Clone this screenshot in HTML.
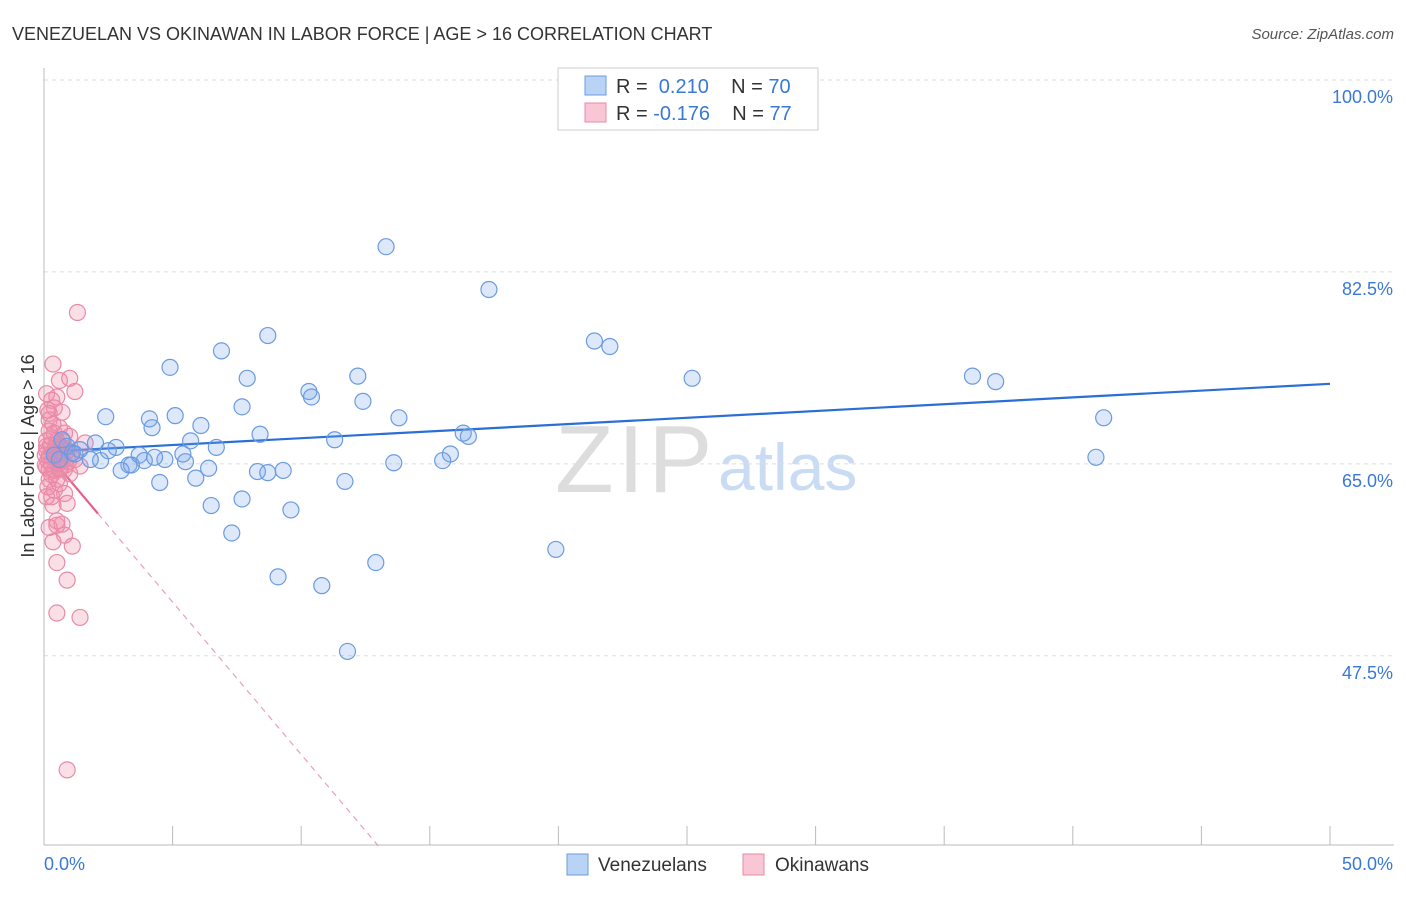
<!DOCTYPE html>
<html><head><meta charset="utf-8"><style>
body{margin:0;background:#fff;width:1406px;height:892px;overflow:hidden;font-family:"Liberation Sans",sans-serif}
svg text{font-family:"Liberation Sans",sans-serif}
</style></head><body>
<svg id="chart" width="1406" height="892" xmlns="http://www.w3.org/2000/svg">
<text x="12" y="40" font-size="18" fill="#333">VENEZUELAN VS OKINAWAN IN LABOR FORCE | AGE &gt; 16 CORRELATION CHART</text>
<text x="1394" y="39" font-size="15" fill="#555" font-style="italic" text-anchor="end">Source: ZipAtlas.com</text>
<g>
<text x="555" y="492" font-size="96" font-family="Liberation Serif" fill="#ddd" letter-spacing="4">ZIP</text>
<text x="718" y="490" font-size="66" fill="#c9dcf3">atlas</text>
</g>
<g id="grid"></g>
<g id="axes"></g>
<g id="trend"></g>
<g id="pts"></g>
<g>
<rect x="558" y="68" width="260" height="62" fill="#fff" stroke="#ccc"/>
<rect x="585" y="76" width="21" height="19" fill="#b9d3f5" stroke="#6a9be0"/>
<rect x="585" y="103" width="21" height="19" fill="#f9c6d6" stroke="#e88aa8"/>
<text x="616" y="93" font-size="20" fill="#333">R = <tspan fill="#3a78d6">&#160;0.210</tspan>&#160;&#160;&#160;&#160;N = <tspan fill="#3a78d6">70</tspan></text>
<text x="616" y="120" font-size="20" fill="#333">R = <tspan fill="#3a78d6">-0.176</tspan>&#160;&#160;&#160;&#160;N = <tspan fill="#3a78d6">77</tspan></text>
</g>
<g>
<rect x="567" y="854" width="21" height="21" fill="#b9d3f5" stroke="#6a9be0"/>
<text x="598" y="871" font-size="19" fill="#333">Venezuelans</text>
<rect x="743" y="854" width="21" height="21" fill="#f9c6d6" stroke="#e88aa8"/>
<text x="775" y="871" font-size="19" fill="#333">Okinawans</text>
</g>
<text transform="translate(34,456) rotate(-90)" font-size="18" fill="#333" text-anchor="middle">In Labor Force | Age &gt; 16</text>
</svg>
<script>
const yTicks=[100,82.5,65,47.5];
const yTickLabels=["100.0%","82.5%","65.0%","47.5%"];
const xTickValues=[0,5,10,15,20,25,30,35,40,45,50];
const xEndLabels=["0.0%","50.0%"];
const blueX=[13.3,17.3,8.7,21.4,22.0,6.9,4.9,7.9,12.2,25.2,36.1,37.0,10.3,10.4,12.4,7.7,2.4,4.1,5.1,13.8,41.2,4.2,6.1,8.4,16.3,16.5,11.3,2.0,5.7,2.8,1.4,6.7,3.7,4.7,5.4,2.2,3.9,5.5,15.8,13.6,15.5,40.9,3.3,3.4,3.0,6.4,8.3,8.7,9.3,5.9,11.7,4.5,7.7,6.5,9.6,7.3,19.9,12.9,9.1,10.8,11.8,0.9,0.4,0.7,1.1,2.5,1.8,0.6,4.3,1.2];
const blueY=[84.8,80.9,76.7,76.2,75.7,75.3,73.8,72.8,73.0,72.8,73.0,72.5,71.6,71.1,70.7,70.2,69.3,69.1,69.4,69.2,69.2,68.3,68.5,67.7,67.8,67.5,67.2,66.9,67.1,66.5,66.3,66.5,65.8,65.4,65.9,65.3,65.3,65.2,65.9,65.1,65.3,65.6,64.9,64.9,64.4,64.6,64.3,64.2,64.4,63.7,63.4,63.3,61.8,61.2,60.8,58.7,57.2,56.0,54.7,53.9,47.9,66.6,65.8,67.2,66.0,66.2,65.4,65.4,65.6,65.9];
const pinkX=[1.3,0.35,0.6,1.0,1.2,0.5,0.3,0.7,0.15,0.4,0.2,0.6,0.8,1.0,1.6,0.3,0.5,0.1,0.7,0.9,0.4,0.2,1.2,0.5,1.4,0.1,0.8,0.4,1.0,0.2,0.6,0.15,0.8,0.3,0.9,0.5,0.7,0.2,0.8,0.35,1.1,0.5,0.9,0.5,1.4,0.9,0.2,0.1,0.15,0.3,0.5,0.6,0.7,0.4,0.1,0.35,0.5,0.1,0.25,0.4,0.7,0.05,0.2,0.45,0.85,1.05,0.6,0.35,0.1,0.2,0.55,0.75,0.05,0.3,0.65,0.45,0.95];
const pinkY=[78.8,74.1,72.6,72.8,71.6,71.1,70.8,69.7,69.9,70.1,69.0,68.3,67.8,67.5,66.9,67.4,67.1,66.6,66.5,66.2,66.0,65.7,65.4,65.2,64.8,64.7,64.5,64.4,64.1,63.6,63.2,62.9,62.3,62.0,61.4,59.8,59.5,59.2,58.5,57.9,57.5,56.0,54.4,51.4,51.0,37.1,68.0,66.2,65.3,64.0,63.6,66.7,65.3,62.6,62.0,61.2,59.4,67.1,66.7,67.8,65.9,64.9,64.5,65.6,64.9,65.9,64.5,68.6,71.4,69.6,66.3,67.0,65.8,65.0,64.6,66.5,65.2];
const blueTrend=[66.1,72.3];
const pinkTrendStart=66.3, pinkSlope=-2.78, pinkSolidEnd=2.1, pinkDashEnd=13.0;

const L=44,R=1330,T=80,B=845;
const xs=v=>L+(R-L)*v/50;
const ys=v=>T+(100-v)*(B-T)/69.75;
const NS="http://www.w3.org/2000/svg";
function mk(tag,attrs,parent){const e=document.createElementNS(NS,tag);for(const k in attrs)e.setAttribute(k,attrs[k]);parent.appendChild(e);return e;}
const grid=document.getElementById('grid'),axes=document.getElementById('axes'),tr=document.getElementById('trend'),pts=document.getElementById('pts');
yTicks.forEach((v,i)=>{
 const l=mk('line',{x1:L,x2:1394,y1:ys(v),y2:ys(v),stroke:'#ddd','stroke-dasharray':'4,4'},grid);
 
 
 const t=mk('text',{x:1393,y:ys(v)+23,'font-size':18,fill:'#3a78d6','text-anchor':'end'},axes);
 t.textContent=yTickLabels[i];
 
 
});
const ya=mk('line',{x1:L,x2:L,y1:68,y2:B,stroke:'#bbb'},axes);


const xa=mk('line',{x1:L,x2:1394,y1:B,y2:B,stroke:'#bbb'},axes);


xTickValues.forEach(v=>{
 const t=mk('line',{x1:xs(v),x2:xs(v),y1:826,y2:B,stroke:'#bbb'},axes);
 
 
});
[[0,'start'],[50,'end']].forEach((a,i)=>{
 const t=mk('text',{x:i?1393:44,y:870,'font-size':18,fill:'#3a78d6','text-anchor':a[1]},axes);
 t.textContent=xEndLabels[i];
 
 
});
pinkX.forEach((x,i)=>{
 const c=mk('circle',{cx:xs(x),cy:ys(pinkY[i]),r:8,fill:'rgba(242,140,170,0.28)',stroke:'#e88aa8','stroke-width':1.2},pts);
 
 
});
blueX.forEach((x,i)=>{
 const c=mk('circle',{cx:xs(x),cy:ys(blueY[i]),r:8,fill:'rgba(120,165,235,0.25)',stroke:'#6a9be0','stroke-width':1.2},pts);
 
 
});
const bl=mk('line',{x1:xs(0),y1:ys(blueTrend[0]),x2:xs(50),y2:ys(blueTrend[1]),stroke:'#2a6fd6','stroke-width':2.2},tr);


const ps=mk('line',{x1:xs(0),y1:ys(pinkTrendStart),x2:xs(pinkSolidEnd),y2:ys(pinkTrendStart+pinkSlope*pinkSolidEnd),stroke:'#e5608a','stroke-width':2.2},tr);


const pd=mk('line',{x1:xs(pinkSolidEnd),y1:ys(pinkTrendStart+pinkSlope*pinkSolidEnd),x2:xs(pinkDashEnd),y2:ys(pinkTrendStart+pinkSlope*pinkDashEnd),stroke:'#eaa0b8','stroke-width':1.2,'stroke-dasharray':'6,5'},tr);


</script>
</body></html>
